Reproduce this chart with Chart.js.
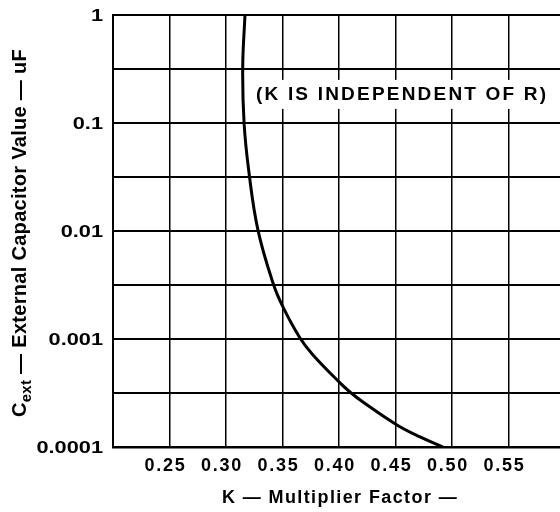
<!DOCTYPE html>
<html>
<head>
<meta charset="utf-8">
<script src="https://cdn.jsdelivr.net/npm/chart.js@4.4.1/dist/chart.umd.min.js"></script>
<style>
  html, body { margin: 0; padding: 0; background: #fff; }
  #wrap { width: 560px; height: 512px; }
</style>
</head>
<body>
<div id="wrap"><canvas id="chart" width="560" height="512"></canvas></div>
<script>
// K multiplier vs external capacitor
const kValues = [0.3168, 0.3148, 0.316, 0.3204, 0.3283, 0.3416, 0.3504, 0.3655, 0.377, 0.4009, 0.4097, 0.4212, 0.4513, 0.4717, 0.492];
const cextValues = [1, 0.33, 0.1, 0.0344, 0.0102, 0.0033, 0.00198, 0.00102, 0.000711, 0.000392, 0.000323, 0.000261, 0.00016, 0.000124, 0.0001];

const xTicks = [0.20, 0.25, 0.30, 0.35, 0.40, 0.45, 0.50, 0.55];
const xTickLabels = ['', '0.25', '0.30', '0.35', '0.40', '0.45', '0.50', '0.55'];
// grid lines every half decade, labels only on the decades
const yGridValues = [0.0001, 0.000316, 0.001, 0.00316, 0.01, 0.0316, 0.1, 0.316, 1];
const yTickValues = [0.0001, 0.001, 0.01, 0.1, 1];
const yTickLabels = ['0.0001', '0.001', '0.01', '0.1', '1'];

const noteText = '(K IS INDEPENDENT OF R)';
const xTitle = 'K \u2014 Multiplier Factor \u2014';
const yTitleMain = 'C';
const yTitleSub = 'ext';
const yTitleRest = ' \u2014 External Capacitor Value \u2014 uF';

const FONT = '"Liberation Sans", Arial, Helvetica, sans-serif';

const textPlugin = {
    id: 'datasheetText',
    beforeDraw(chart) {
        // wide spacing on the x tick labels, like the printed sheet
        chart.ctx.letterSpacing = '1.7px';
    },
    afterDraw(chart) {
        const ctx = chart.ctx;
        const xs = chart.scales.x;
        const ys = chart.scales.y;
        const area = chart.chartArea;

        ctx.save();
        ctx.fillStyle = '#000';

        // y tick labels (stretched horizontally)
        ctx.letterSpacing = '0px';
        ctx.font = 'bold 17px ' + FONT;
        ctx.textAlign = 'right';
        ctx.textBaseline = 'middle';
        yTickValues.forEach((v, i) => {
            const py = ys.getPixelForValue(v);
            ctx.save();
            ctx.translate(area.left - 10, py + 1);
            ctx.scale(1.28, 1);
            ctx.fillText(yTickLabels[i], 0, 0);
            ctx.restore();
        });

        // note box
        const nx = xs.getPixelForValue(0.455);
        const ny = ys.getPixelForValue(0.186);
        ctx.font = 'bold 19px ' + FONT;
        ctx.letterSpacing = '2.2px';
        const nw = ctx.measureText(noteText).width;
        ctx.fillStyle = '#fff';
        ctx.fillRect(nx - nw / 2 - 5, ny - 14, nw + 8, 29);
        ctx.fillStyle = '#000';
        ctx.textAlign = 'center';
        ctx.textBaseline = 'middle';
        ctx.fillText(noteText, nx + 1, ny + 1);

        // x title
        ctx.font = 'bold 18px ' + FONT;
        ctx.letterSpacing = '1.4px';
        ctx.textBaseline = 'alphabetic';
        ctx.fillText(xTitle, 340, 503);

        // y title with subscript
        ctx.save();
        ctx.translate(26, 233);
        ctx.rotate(-Math.PI / 2);
        ctx.textAlign = 'left';
        ctx.letterSpacing = '0.3px';
        ctx.font = 'bold 20px ' + FONT;
        const wMain = ctx.measureText(yTitleMain).width;
        const wRest = ctx.measureText(yTitleRest).width;
        ctx.font = 'bold 15px ' + FONT;
        const wSub = ctx.measureText(yTitleSub).width;
        let px = -(wMain + wSub + wRest) / 2;
        ctx.font = 'bold 20px ' + FONT;
        ctx.fillText(yTitleMain, px, 0);
        px += wMain;
        ctx.font = 'bold 15px ' + FONT;
        ctx.fillText(yTitleSub, px, 5);
        px += wSub;
        ctx.font = 'bold 20px ' + FONT;
        ctx.fillText(yTitleRest, px, 0);
        ctx.restore();

        ctx.restore();
    }
};

const points = kValues.map((k, i) => ({ x: k, y: cextValues[i] }));

new Chart(document.getElementById('chart'), {
    type: 'scatter',
    data: {
        datasets: [{
            data: points,
            showLine: true,
            borderColor: '#000',
            borderWidth: 3,
            pointRadius: 0,
            tension: 0.4,
            fill: false
        }]
    },
    options: {
        responsive: false,
        animation: false,
        layout: { padding: { top: 15, left: 0, right: 0, bottom: 0 } },
        plugins: {
            legend: { display: false },
            tooltip: { enabled: false }
        },
        scales: {
            x: {
                type: 'linear',
                min: 0.2,
                max: 0.5956,
                afterBuildTicks: (s) => { s.ticks = xTicks.map(v => ({ value: v })); },
                afterFit: (s) => { s.height = 65; },
                grid: { color: '#000', lineWidth: 1.5, drawTicks: false },
                border: { color: '#000', width: 2.5 },
                ticks: {
                    callback: (v, i) => xTickLabels[i],
                    color: '#000',
                    font: { family: FONT, size: 18, weight: 'bold' },
                    padding: 8,
                    labelOffset: -4,
                    maxRotation: 0,
                    autoSkip: false
                }
            },
            y: {
                type: 'logarithmic',
                min: 0.0001,
                max: 1,
                afterBuildTicks: (s) => { s.ticks = yGridValues.map(v => ({ value: v })); },
                afterFit: (s) => { s.width = 113; },
                grid: { color: '#000', lineWidth: 2, drawTicks: false },
                border: { color: '#000', width: 2 },
                ticks: { display: false }
            }
        }
    },
    plugins: [textPlugin]
});
</script>
</body>
</html>
